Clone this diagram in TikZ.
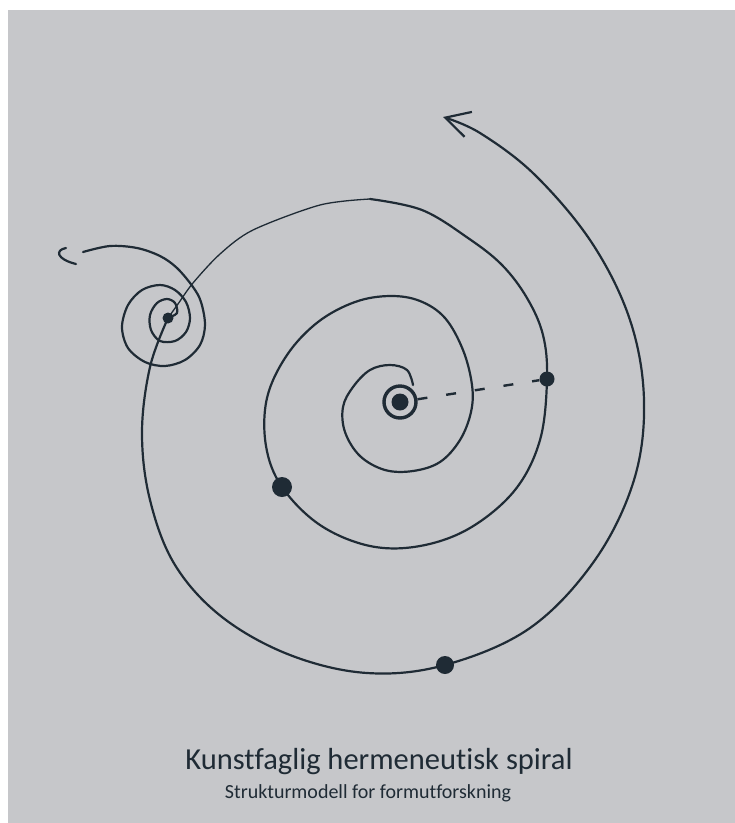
\documentclass[tikz,border=0pt]{standalone}
\usepackage{fontspec}
\setmainfont{Carlito}[Ligatures=NoCommon]
\usepackage{xcolor}
\usepackage{tikz}
\usetikzlibrary{arrows.meta}
\definecolor{paper}{HTML}{C6C7CA}
\definecolor{ink}{HTML}{1F2B35}

\begin{document}
\begin{tikzpicture}[x=1pt,y=-1pt,line cap=round,line join=round]
  \tikzstyle{pen}=[draw=ink,line width=2.2pt]
  \tikzstyle{thinpen}=[draw=ink,line width=1.3pt]
  \tikzstyle{blob}=[circle,fill=ink,inner sep=0pt]
  \fill[white] (0,0) rectangle (735,823);
  \fill[paper] (8,10) rectangle (735,823);
  \useasboundingbox (0,0) rectangle (735,823);
  % centre and marks on the spiral
  \node[blob,minimum size=17pt] (core) at (400,402) {};
  \node[circle,draw=ink,line width=3.4pt,inner sep=0pt,minimum size=32pt] (corering) at (400,402) {};
  \node[blob,minimum size=20pt] (midleft) at (282,487) {};
  \node[blob,minimum size=15pt] (midright) at (547,379) {};
  \node[blob,minimum size=18pt] (lowmark) at (445,665) {};
  \node[blob,minimum size=11pt] (knot) at (168,318) {};
  \draw[ink,line width=2.4pt,line cap=butt,dash pattern=on 10pt off 19pt] (corering) -- (midright);
  % inner spiral
  \draw[pen] plot[smooth,tension=0.6] coordinates {(413,385) (407,370) (390,365) (370,370) (353,387) (343,407)
    (345,432) (360,456) (385,470) (413,471) (440,462) (460,440) (471,412) (472,385)
    (463,350) (445,318) (420,301) (390,296) (355,302) (318,322) (287,355) (267,398) (266,446)
    (282,487) (320,525) (370,546) (420,546) (470,528) (515,490) (540,440) (547,379)
    (543,335) (527,298) (502,265) (468,238) (422,210) (370,199)};
  \draw[thinpen] plot[smooth] coordinates {(370,199) (320,205) (253,230) (220,254) (193,283) (178,304) (168,318)};
  % small spiral
  \draw[pen] plot[smooth,tension=0.55] coordinates {(168,318) (177,313) (175,303) (167,299) (157,303) (150,315)
    (151,330) (160,341) (175,341) (186,332) (190,318) (186,302) (175,290) (160,285) (142,290) (128,305)
    (122,327) (128,348) (145,362) (165,366) (185,360) (200,345) (205,325) (201,302) (193,287) (177,268)
    (160,256) (137,248) (110,246) (83,252)};
  \draw[pen] (66,248) .. controls (55,250) and (56,259) .. (76,264);
  % outer turn with arrow
  \draw[pen,-{Straight Barb[length=24pt,width=26pt]}] plot[smooth,tension=0.6] coordinates {(168,318)
    (150,367) (142,433) (150,500) (175,565) (222,617) (290,655) (367,673) (445,665)
    (530,628) (595,560) (634,480) (644,400) (630,320) (592,243) (535,175) (480,133) (443,117)};
  \node[anchor=base,text=ink,font=\fontsize{30.5}{34}\selectfont] (title) at (379,769) {Kunstfaglig hermeneutisk spiral};
  \node[anchor=base,text=ink,font=\fontsize{20}{24}\selectfont] (subtitle) at (368,798) {Strukturmodell for formutforskning};
\end{tikzpicture}
\end{document}
